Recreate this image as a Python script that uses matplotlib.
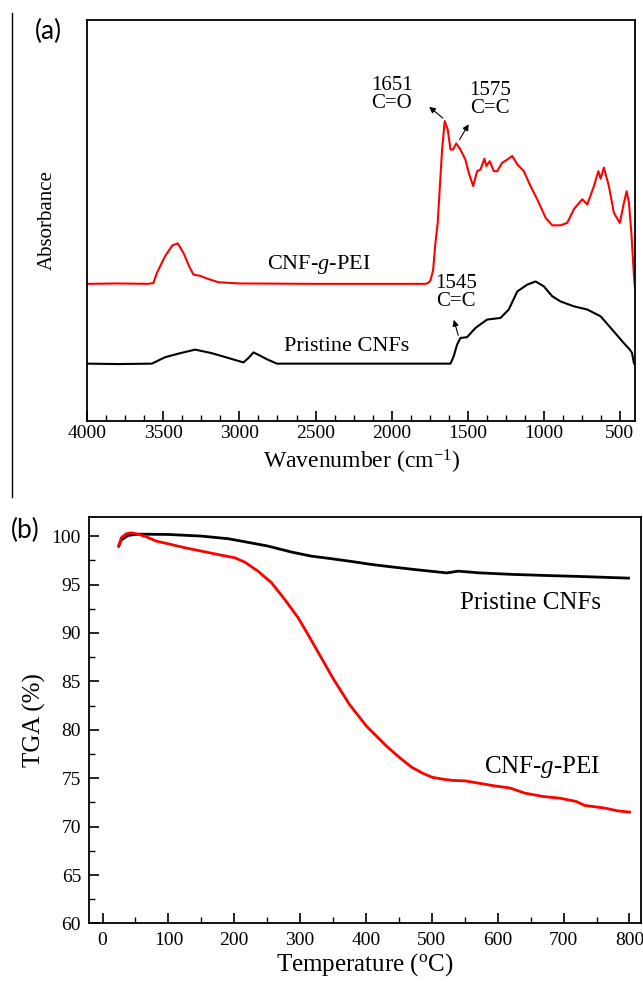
import numpy as np
import matplotlib
matplotlib.use("Agg")
import matplotlib.pyplot as plt
from matplotlib.lines import Line2D

plt.rcParams['font.family'] = ['Liberation Serif', 'DejaVu Serif']
plt.rcParams['mathtext.fontset'] = 'custom'
plt.rcParams['mathtext.rm'] = 'Liberation Serif'
plt.rcParams['mathtext.it'] = 'Liberation Serif:italic'

# ---- FTIR data (arbitrary absorbance units) ----
wn_pei = [4000, 3800, 3600, 3566, 3543, 3489, 3441, 3405, 3368, 3331, 3302,
          3258, 3204, 3138, 3000, 2500, 2000, 1780, 1760, 1745, 1727, 1712,
          1697, 1684, 1668, 1651, 1631, 1613, 1596, 1575, 1548, 1515, 1493,
          1464, 1438, 1416, 1390, 1377, 1355, 1328, 1306, 1273, 1240, 1207,
          1174, 1131, 1087, 1043, 988, 944, 889, 846, 802, 747, 714, 670,
          641, 626, 605, 572, 539, 500, 473, 455, 440, 424, 407, 400]
ab_pei = [0.342, 0.343, 0.342, 0.344, 0.369, 0.411, 0.438, 0.443, 0.419,
          0.386, 0.365, 0.362, 0.354, 0.346, 0.343, 0.342, 0.342, 0.342,
          0.344, 0.350, 0.377, 0.444, 0.494, 0.577, 0.677, 0.748, 0.727,
          0.677, 0.677, 0.692, 0.677, 0.652, 0.619, 0.586, 0.623, 0.627,
          0.654, 0.636, 0.648, 0.623, 0.623, 0.644, 0.652, 0.661, 0.640,
          0.623, 0.586, 0.553, 0.507, 0.488, 0.488, 0.494, 0.528, 0.553,
          0.540, 0.586, 0.623, 0.604, 0.632, 0.586, 0.519, 0.494, 0.544,
          0.573, 0.544, 0.469, 0.361, 0.330]

wn_cnf = [4000, 3800, 3576, 3489, 3401, 3291, 3181, 3072, 2974, 2941, 2908,
          2875, 2820, 2754, 2500, 2000, 1613, 1592, 1570, 1548, 1504, 1449,
          1372, 1284, 1230, 1174, 1109, 1054, 1000, 944, 889, 802, 714, 626,
          539, 473, 434, 420, 407, 400]
ab_cnf = [0.143, 0.142, 0.143, 0.159, 0.168, 0.178, 0.169, 0.157, 0.146,
          0.157, 0.171, 0.165, 0.154, 0.143, 0.143, 0.143, 0.143, 0.161,
          0.190, 0.207, 0.209, 0.232, 0.253, 0.257, 0.278, 0.323, 0.340,
          0.348, 0.336, 0.311, 0.298, 0.286, 0.278, 0.261, 0.223, 0.194,
          0.178, 0.170, 0.144, 0.140]

# ---- TGA data ----
t_cnf = [24.5, 28.5, 38.6, 53.8, 99.4, 150, 190.6, 211, 251, 287, 317, 348,
         378, 408.5, 429, 472, 522.5, 540, 573, 624, 674.5, 725, 798.5]
w_cnf = [98.97, 99.59, 100.07, 100.2, 100.17, 100.0, 99.73, 99.48, 98.97,
         98.35, 97.93, 97.66, 97.38, 97.07, 96.9, 96.56, 96.2, 96.38, 96.2,
         96.04, 95.93, 95.83, 95.66]

t_pei = [24.5, 28.5, 36, 43.7, 53.8, 66.5, 81.7, 99.4, 124.8, 150, 175,
         200.8, 216, 236, 256.5, 276.7, 297, 312, 325, 350, 375, 401, 431.5,
         451.5, 469, 485, 500, 517, 531.6, 550, 594, 619, 641, 669, 694, 719,
         732, 763, 782, 800]
w_pei = [98.97, 99.83, 100.24, 100.34, 100.2, 99.93, 99.48, 99.21, 98.8,
         98.45, 98.1, 97.76, 97.31, 96.38, 95.18, 93.45, 91.56, 89.83, 88.28,
         85.3, 82.6, 80.35, 78.28, 77.1, 76.15, 75.55, 75.1, 74.9, 74.77,
         74.73, 74.22, 73.98, 73.46, 73.11, 72.94, 72.6, 72.19, 71.91, 71.63,
         71.5]

fig = plt.figure(figsize=(6.43, 9.82), dpi=100)

# ---------------- panel (a) ----------------
ax1 = fig.add_axes([0.1358, 0.5713, 0.8518, 0.4083])
ax1.plot(wn_pei, ab_pei, color='red', lw=1.5)
ax1.plot(wn_cnf, ab_cnf, color='black', lw=1.5)
ax1.set_xlim(4000, 400)
ax1.set_ylim(0, 1)
ax1.set_xticks([4000, 3500, 3000, 2500, 2000, 1500, 1000, 500])
ax1.set_xticks(np.arange(3875, 400, -125), minor=True)
ax1.set_yticks([])
ax1.tick_params(axis='x', which='major', direction='in', length=7, width=1.2,
                labelsize=14, pad=3)
ax1.tick_params(axis='x', which='minor', direction='in', length=4, width=1.0)
for s in ax1.spines.values():
    s.set_linewidth(1.3)
ax1.set_xlabel('Wavenumber (cm$^{-1}$)', fontsize=17, labelpad=4)
ax1.set_ylabel('Absorbance', fontsize=15, labelpad=22)

ax1.text(2480, 0.39, 'CNF-$g$-PEI', fontsize=16, ha='center', va='center')
ax1.text(2294, 0.185, 'Pristine CNFs', fontsize=16, ha='center', va='center')

arw = dict(arrowstyle='-|>', color='black', lw=0.8, mutation_scale=9)
ax1.annotate('', xy=(1767, 0.788), xytext=(1649, 0.751), arrowprops=arw)
ax1.text(1998, 0.815, '1651\nC=O', fontsize=15, ha='center', va='center',
         linespacing=0.95)
ax1.annotate('', xy=(1484, 0.746), xytext=(1563, 0.696), arrowprops=arw)
ax1.text(1354, 0.802, '1575\nC=C', fontsize=15, ha='center', va='center',
         linespacing=0.95)
ax1.annotate('', xy=(1596, 0.259), xytext=(1557, 0.207), arrowprops=arw)
ax1.text(1576, 0.32, '1545\nC=C', fontsize=15, ha='center', va='center',
         linespacing=0.95)

# ---------------- panel (b) ----------------
ax2 = fig.add_axes([0.139, 0.0596, 0.8574, 0.4142])
ax2.plot(t_cnf, w_cnf, color='black', lw=2)
ax2.plot(t_pei, w_pei, color='red', lw=2)
ax2.set_xlim(-20, 817)
ax2.set_ylim(60, 102)
ax2.set_xticks(range(0, 801, 100))
ax2.set_xticks(range(50, 801, 100), minor=True)
ax2.set_yticks(range(60, 101, 5))
ax2.set_yticks(np.arange(62.5, 100, 5), minor=True)
ax2.tick_params(which='major', direction='in', length=7, width=1.2,
                labelsize=14, pad=6)
ax2.tick_params(which='minor', direction='in', length=4, width=1.0)
for s in ax2.spines.values():
    s.set_linewidth(1.3)
ax2.set_xlabel('Temperature ($^{\\rm o}$C)', fontsize=18, labelpad=2)
ax2.set_ylabel('TGA (%)', fontsize=18, labelpad=4)
ax2.text(649, 93.1, 'Pristine CNFs', fontsize=18, ha='center', va='center')
ax2.text(668, 76.2, 'CNF-$g$-PEI', fontsize=18, ha='center', va='center')

# panel letters and the left rule
fig.text(0.076, 0.968, '(a)', fontsize=19, family='Lato', ha='center', va='center')
fig.text(0.040, 0.4595, '(b)', fontsize=19, family='Lato', ha='center', va='center')
fig.add_artist(Line2D([0.0187, 0.0187], [0.9868, 0.4939], color='black',
                      lw=1.0, transform=fig.transFigure))

fig.savefig('out.png', dpi=100)
